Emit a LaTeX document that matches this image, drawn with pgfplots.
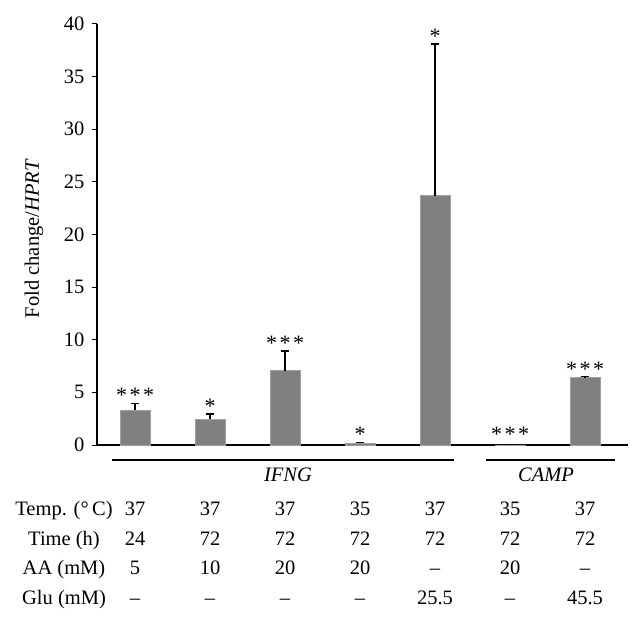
\documentclass[border=0pt]{standalone}
\usepackage{pgfplots}
\pgfplotsset{compat=1.18}
\usepackage{fontspec}
\setmainfont{Liberation Serif}
\newcommand\fs{\fontsize{20.5bp}{29.5bp}\selectfont}
\newcommand\col[4]{\begin{tabular}{@{}c@{}}#1\\#2\\#3\\#4\end{tabular}}
\newcommand\three{*\hspace{2.5bp}*\hspace{2.5bp}*}
\definecolor{bargray}{RGB}{128,128,128}
\begin{document}
\begin{tikzpicture}
\useasboundingbox (-97bp,-175bp) rectangle (545bp,445bp);
\begin{axis}[
 at={(0,0)}, anchor=south west,
 scale only axis, width=531bp, height=421bp,
 xmin=-0.507, xmax=6.573, ymin=0, ymax=40,
 axis lines=left, axis line style={line width=1.2bp,-},
 clip=false,
 ytick={0,5,...,40},
 xtick={0,...,6},
 xticklabels={\col{37}{24}{5}{--},\col{37}{72}{10}{--},\col{37}{72}{20}{--},\col{35}{72}{20}{--},\col{37}{72}{--}{25.5},\col{35}{72}{20}{--},\col{37}{72}{--}{45.5}},
 tick align=outside, major tick length=5bp,
 xtick style={draw=none},
 ytick style={line width=1bp, black},
 tick label style={font=\fs},
 /pgf/number format/assume math mode=true,
 yticklabel style={xshift=-4bp},
 xticklabel style={anchor=north, inner sep=0pt, yshift=-44.8bp},
 ylabel={Fold change/\textit{HPRT}},
 ylabel style={font=\fs, at={(axis description cs:-0.1186,0.49)}, anchor=center},
]
\addplot[ybar, bar width=30bp, bar shift=0pt, fill=bargray, draw=bargray!75!white,
  error bars/.cd, y dir=plus, y explicit,
  error bar style={line width=1.2bp, black},
  error mark options={rotate=90, line width=1.2bp, mark size=4bp, black}]
 coordinates {(0,3.28) +- (0,0.68) (1,2.44) +- (0,0.5) (2,7.06) +- (0,1.87) (3,0.18) +- (0,0.08) (4,23.7) +- (0,14.4) (5,0.02) +- (0,0) (6,6.4) +- (0,0.1)};
\addplot[draw=none, mark=none, nodes near coords, point meta=explicit symbolic,
  every node near coord/.append style={font=\fontsize{22bp}{26bp}\selectfont, anchor=base, inner sep=0pt, yshift=0.5bp}]
 coordinates {(0,3.96) [\three] (1,2.94) [*] (2,8.93) [\three] (3,0.26) [*] (4,38.1) [*] (5,0.25) [\three] (6,6.5) [\three]};
\draw[line width=1.3bp] ([yshift=-15bp]axis cs:-0.307,0) -- ([yshift=-15bp]axis cs:4.253,0);
\draw[line width=1.3bp] ([yshift=-15bp]axis cs:4.68,0) -- ([yshift=-15bp]axis cs:6.4,0);
\node[font=\fs\itshape, anchor=center] at ([yshift=-30bp]axis cs:2.04,0) {IFNG};
\node[font=\fs\itshape, anchor=center] at ([yshift=-30bp]axis cs:5.48,0) {CAMP};
\node[font=\fs, anchor=north, inner sep=0pt] at ([yshift=-49.8bp]axis cs:-0.947,0) {\col{Temp. (°\,C)}{Time (h)}{AA (mM)}{Glu (mM)}};
\end{axis}
\end{tikzpicture}
\end{document}
